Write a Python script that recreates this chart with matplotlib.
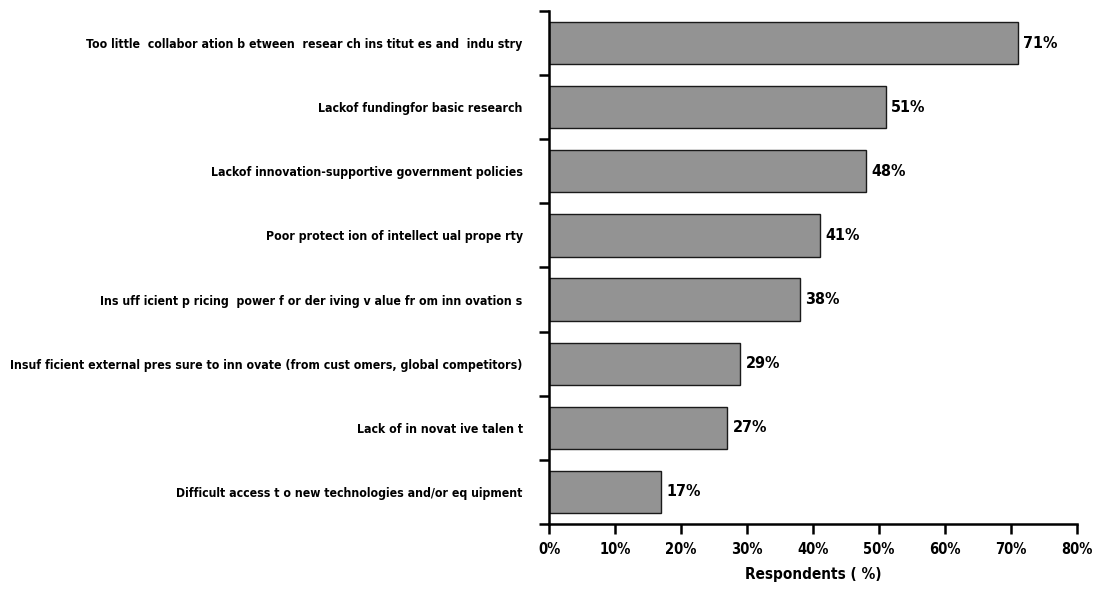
import matplotlib
matplotlib.use("Agg")
import matplotlib.pyplot as plt
from matplotlib.ticker import FixedLocator, PercentFormatter

plt.rcParams["font.family"] = ["DejaVu Sans"]
plt.rcParams["font.stretch"] = "condensed"
plt.rcParams["font.weight"] = "bold"

labels = [
    "Too little  collabor ation b etween  resear ch ins titut es and  indu stry",
    "Lackof fundingfor basic research",
    "Lackof innovation-supportive government policies",
    "Poor protect ion of intellect ual prope rty",
    "Ins uff icient p ricing  power f or der iving v alue fr om inn ovation s",
    "Insuf ficient external pres sure to inn ovate (from cust omers, global competitors)",
    "Lack of in novat ive talen t",
    "Difficult access t o new technologies and/or eq uipment",
]
values = [71, 51, 48, 41, 38, 29, 27, 17]
xticks = [0, 10, 20, 30, 40, 50, 60, 70, 80]

fig = plt.figure(figsize=(10.95, 5.91), dpi=100)
ax = fig.add_axes([0.5014, 0.1134, 0.4822, 0.868])

pos = list(range(len(labels)))
ax.barh(pos, values, height=0.66, color="#939393", edgecolor="#1a1a1a", linewidth=1.0)
ax.set_ylim(len(labels) - 0.5, -0.5)
ax.set_xlim(0, 80)

# percentage next to each bar end
for p, v in zip(pos, values):
    ax.text(v + 0.8, p, f"{v}%", va="center", ha="left", fontsize=11.5, fontweight="bold")

ax.set_yticks(pos)
ax.set_yticklabels(labels, fontsize=8.8, fontweight="bold")
# tick marks sit between the bars, not at the labels
ax.yaxis.set_minor_locator(FixedLocator([p - 0.5 for p in pos] + [len(labels) - 0.5]))
ax.tick_params(axis="y", which="major", length=0, pad=19)
ax.tick_params(axis="y", which="minor", length=7, width=1.8, direction="out")

ax.set_xticks(xticks)
ax.xaxis.set_major_formatter(PercentFormatter(decimals=0))
ax.tick_params(axis="x", length=7, width=1.8, direction="out", labelsize=10.5, pad=6)
for t in ax.get_xticklabels():
    t.set_fontweight("bold")
ax.set_xlabel("Respondents ( %)", fontsize=11, fontweight="bold", labelpad=7)

for s in ["top", "right"]:
    ax.spines[s].set_visible(False)
for s in ["left", "bottom"]:
    ax.spines[s].set_linewidth(1.8)

fig.savefig("out.png", dpi=100, facecolor="white")
